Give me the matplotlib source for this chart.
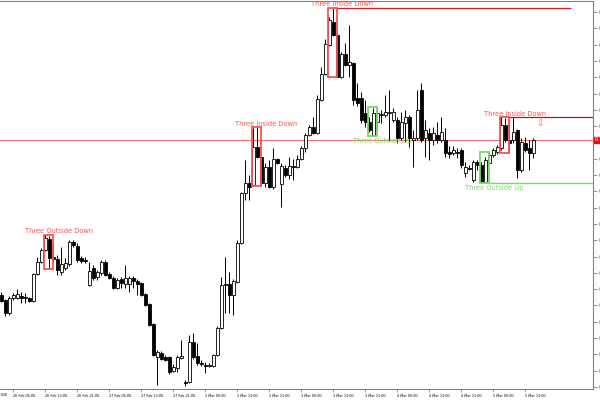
import matplotlib
matplotlib.use("Agg")
import matplotlib.pyplot as plt
from matplotlib.patches import Rectangle
import numpy as np

# hourly candles, 26 Feb 02:00 .. 5 Mar 15:00
opens = [
    0.7105, 0.7100, 0.7087, 0.7102, 0.7102, 0.7104, 0.7103, 0.7102, 0.7099, 0.7126,
    0.7138, 0.7150, 0.7161, 0.7143, 0.7141, 0.7128, 0.7132, 0.7136, 0.7158, 0.7154,
    0.7142, 0.7140, 0.7115, 0.7132, 0.7123, 0.7127, 0.7138, 0.7126, 0.7122, 0.7112,
    0.7121, 0.7116, 0.7116, 0.7122, 0.7119, 0.7117, 0.7106, 0.7096, 0.7076, 0.7043,
    0.7047, 0.7043, 0.7043, 0.7029, 0.7032, 0.7042, 0.7018, 0.7018, 0.7058, 0.7044,
    0.7037, 0.7035, 0.7034, 0.7034, 0.7045, 0.7072, 0.7115, 0.7116, 0.7105, 0.7118,
    0.7157, 0.7207, 0.7217, 0.7215, 0.7253, 0.7243, 0.7217, 0.7233, 0.7213, 0.7241,
    0.7216, 0.7232, 0.7225, 0.7234, 0.7233, 0.7241, 0.7252, 0.7265, 0.7273, 0.7267,
    0.7300, 0.7326, 0.7355, 0.7378, 0.7365, 0.7323, 0.7346, 0.7335, 0.7337, 0.7302,
    0.7302, 0.7287, 0.7278, 0.7265, 0.7278, 0.7285, 0.7285, 0.7287, 0.7280, 0.7280,
    0.7262, 0.7277, 0.7283, 0.7260, 0.7262, 0.7310, 0.7262, 0.7267, 0.7260, 0.7265,
    0.7260, 0.7260, 0.7248, 0.7247, 0.7248, 0.7250, 0.7227, 0.7232, 0.7220, 0.7238,
    0.7235, 0.7218, 0.7237, 0.7245, 0.7248, 0.7252, 0.7275, 0.7260, 0.7260, 0.7270,
    0.7230, 0.7257, 0.7252, 0.7247,
]
highs = [
    0.7108, 0.7101, 0.7104, 0.7107, 0.7111, 0.7108, 0.7107, 0.7103, 0.7127, 0.7143,
    0.7152, 0.7165, 0.7164, 0.7155, 0.7145, 0.7153, 0.7142, 0.7160, 0.7160, 0.7157,
    0.7144, 0.7143, 0.7138, 0.7135, 0.7130, 0.7140, 0.7140, 0.7128, 0.7124, 0.7122,
    0.7123, 0.7135, 0.7124, 0.7124, 0.7121, 0.7118, 0.7107, 0.7097, 0.7077, 0.7050,
    0.7049, 0.7045, 0.7044, 0.7036, 0.7045, 0.7060, 0.7020, 0.7065, 0.7067, 0.7057,
    0.7040, 0.7038, 0.7037, 0.7046, 0.7074, 0.7123, 0.7143, 0.7128, 0.7121, 0.7160,
    0.7208, 0.7240, 0.7225, 0.7272, 0.7273, 0.7244, 0.7237, 0.7240, 0.7252, 0.7242,
    0.7237, 0.7235, 0.7243, 0.7241, 0.7245, 0.7254, 0.7267, 0.7275, 0.7283, 0.7305,
    0.7333, 0.7361, 0.7383, 0.7392, 0.7367, 0.7348, 0.7357, 0.7375, 0.7338, 0.7317,
    0.7308, 0.7300, 0.7283, 0.7292, 0.7293, 0.7290, 0.7305, 0.7310, 0.7292, 0.7283,
    0.7288, 0.7290, 0.7285, 0.7270, 0.7310, 0.7317, 0.7280, 0.7272, 0.7273, 0.7278,
    0.7283, 0.7272, 0.7254, 0.7254, 0.7252, 0.7252, 0.7238, 0.7235, 0.7240, 0.7240,
    0.7238, 0.7243, 0.7248, 0.7252, 0.7255, 0.7283, 0.7282, 0.7280, 0.7283, 0.7271,
    0.7262, 0.7263, 0.7260, 0.7262,
]
lows = [
    0.7098, 0.7084, 0.7085, 0.7100, 0.7101, 0.7097, 0.7097, 0.7098, 0.7098, 0.7125,
    0.7137, 0.7149, 0.7131, 0.7138, 0.7125, 0.7125, 0.7130, 0.7134, 0.7153, 0.7138,
    0.7137, 0.7137, 0.7114, 0.7120, 0.7120, 0.7125, 0.7124, 0.7121, 0.7111, 0.7111,
    0.7112, 0.7112, 0.7108, 0.7112, 0.7105, 0.7104, 0.7094, 0.7074, 0.7044, 0.7015,
    0.7040, 0.7039, 0.7026, 0.7028, 0.7028, 0.7041, 0.7014, 0.7017, 0.7041, 0.7035,
    0.7034, 0.7027, 0.7033, 0.7033, 0.7044, 0.7071, 0.7087, 0.7087, 0.7085, 0.7117,
    0.7156, 0.7200, 0.7200, 0.7214, 0.7242, 0.7215, 0.7213, 0.7212, 0.7211, 0.7236,
    0.7193, 0.7223, 0.7221, 0.7220, 0.7232, 0.7240, 0.7248, 0.7264, 0.7266, 0.7266,
    0.7299, 0.7325, 0.7354, 0.7364, 0.7323, 0.7322, 0.7334, 0.7323, 0.7295, 0.7294,
    0.7277, 0.7273, 0.7268, 0.7264, 0.7270, 0.7277, 0.7283, 0.7260, 0.7278, 0.7257,
    0.7260, 0.7258, 0.7253, 0.7233, 0.7260, 0.7258, 0.7243, 0.7240, 0.7255, 0.7257,
    0.7258, 0.7243, 0.7242, 0.7245, 0.7242, 0.7232, 0.7223, 0.7230, 0.7218, 0.7230,
    0.7217, 0.7217, 0.7235, 0.7243, 0.7246, 0.7250, 0.7258, 0.7247, 0.7257, 0.7222,
    0.7228, 0.7248, 0.7230, 0.7242,
]
closes = [
    0.7099, 0.7087, 0.7102, 0.7105, 0.7106, 0.7102, 0.7102, 0.7099, 0.7126, 0.7138,
    0.7150, 0.7162, 0.7142, 0.7141, 0.7130, 0.7136, 0.7137, 0.7158, 0.7155, 0.7140,
    0.7139, 0.7139, 0.7129, 0.7122, 0.7128, 0.7138, 0.7125, 0.7122, 0.7112, 0.7120,
    0.7117, 0.7122, 0.7122, 0.7119, 0.7116, 0.7105, 0.7095, 0.7075, 0.7045, 0.7048,
    0.7041, 0.7040, 0.7028, 0.7033, 0.7043, 0.7044, 0.7017, 0.7058, 0.7043, 0.7037,
    0.7036, 0.7034, 0.7035, 0.7045, 0.7072, 0.7115, 0.7116, 0.7105, 0.7119, 0.7157,
    0.7207, 0.7217, 0.7213, 0.7253, 0.7243, 0.7217, 0.7233, 0.7213, 0.7241, 0.7237,
    0.7234, 0.7225, 0.7234, 0.7233, 0.7241, 0.7252, 0.7265, 0.7273, 0.7267, 0.7301,
    0.7326, 0.7356, 0.7380, 0.7365, 0.7323, 0.7346, 0.7335, 0.7338, 0.7300, 0.7297,
    0.7280, 0.7278, 0.7270, 0.7287, 0.7287, 0.7286, 0.7288, 0.7288, 0.7288, 0.7262,
    0.7278, 0.7283, 0.7262, 0.7262, 0.7290, 0.7260, 0.7270, 0.7260, 0.7267, 0.7260,
    0.7268, 0.7247, 0.7246, 0.7250, 0.7247, 0.7235, 0.7233, 0.7231, 0.7238, 0.7235,
    0.7218, 0.7240, 0.7245, 0.7250, 0.7253, 0.7275, 0.7260, 0.7257, 0.7268, 0.7230,
    0.7258, 0.7250, 0.7247, 0.7260,
]

# (first candle of the 3-bar pattern, name, bullish?)
patterns = [
    (11, "Three Outside Down", False),
    (63, "Three Inside Down", False),
    (82, "Three Inside Down", False),
    (92, "Three Outside Up", True),
    (120, "Three Outside Up", True),
    (125, "Three Inside Down", False),
]

# x tick labels every 8 bars, starting at bar 3
tick_bars = [3, 11, 19, 27, 35, 43, 51, 59, 67, 75, 83, 91, 99, 107, 115, 123, 131]
tick_labels = [
    "26 Feb 05:00", "26 Feb 13:00", "26 Feb 21:00", "27 Feb 05:00", "27 Feb 13:00",
    "27 Feb 21:00", "2 Mar 05:00", "2 Mar 13:00", "2 Mar 21:00", "3 Mar 05:00",
    "3 Mar 13:00", "3 Mar 21:00", "4 Mar 05:00", "4 Mar 13:00", "4 Mar 21:00",
    "5 Mar 05:00", "5 Mar 13:00",
]

RED = "#ff5050"
GREEN = "#78d86a"

o = np.array(opens)
h = np.array(highs)
l = np.array(lows)
c = np.array(closes)
x = np.arange(len(o))

fig = plt.figure(figsize=(6, 4), dpi=100)
ax = fig.add_axes([0, 11 / 400, 593 / 600, 388 / 400])
ax.set_xlim(-0.325, 147.9)
ax.set_ylim(0.7011, 0.7399)

# current price line
ax.axhline(c[-1], color="#ff6c6c", lw=0.8, zorder=1)

# candles: white = bull, black = bear
ax.vlines(x, l, h, color="black", lw=0.7, zorder=2)
up = c >= o
body_lo = np.minimum(o, c)
body_h = np.maximum(np.abs(c - o), 0.00004)
ax.bar(x[up], body_h[up], bottom=body_lo[up], width=0.7,
       color="white", edgecolor="black", linewidth=0.6, zorder=3)
ax.bar(x[~up], body_h[~up], bottom=body_lo[~up], width=0.7,
       color="black", edgecolor="black", linewidth=0.6, zorder=3)

# pattern boxes + labels
for k, name, bull in patterns:
    hi = h[k:k + 3].max()
    lo = l[k:k + 3].min()
    col = GREEN if bull else RED
    ax.add_patch(Rectangle((k - 0.3, lo), 2.3, hi - lo, fill=False,
                           edgecolor=col, lw=1.3, zorder=4))
    if bull:
        ax.text(k + 3.3, lo - 0.0005, name, color=col, fontsize=4.8,
                ha="center", va="center", zorder=5)
    else:
        ax.text(k + 3.3, hi + 0.00035, name, color=col, fontsize=4.8,
                ha="center", va="center", zorder=5)

# level lines from the latest patterns
ax.hlines(h[82:85].max(), 84, 142.4, color="#e81818", lw=0.9, zorder=4)
ax.hlines(h[125:128].max(), 127, 148, color="#c01010", lw=0.9, zorder=4)
ax.hlines(l[120:123].min(), 122, 148, color=GREEN, lw=1.0, zorder=4)

# sell arrow
ax.text(134.7, 0.7276, "\u21e9", color=RED, fontsize=6.5, ha="center",
        va="center", zorder=5)

# axes styling
for side in ("top", "right", "bottom"):
    ax.spines[side].set_color("#808080")
    ax.spines[side].set_linewidth(0.8)
ax.spines["left"].set_visible(False)

ax.yaxis.tick_right()
yt = np.arange(0.7013, 0.7399, 0.00163)
ax.set_yticks(yt)
ax.set_yticklabels([f"{v:.4f}" for v in yt])
ax.tick_params(axis="y", length=3, width=0.6, color="#808080",
               labelsize=3.6, pad=1, labelcolor="#404040")

ax.set_xticks(tick_bars)
ax.set_xticklabels(tick_labels, ha="left")
ax.tick_params(axis="x", length=2, width=0.5, color="#808080",
               labelsize=2.4, pad=1.5)
ax.text(1.4, -0.01, "26 Feb 2026", transform=ax.get_xaxis_transform(),
        fontsize=2.4, ha="right", va="top")

# bid price tag on the scale
ax.text(1.003, c[-1], f"{c[-1]:.4f}", transform=ax.get_yaxis_transform(),
        fontsize=3.6, color="white", ha="left", va="center",
        bbox=dict(boxstyle="square,pad=0.15", fc="#e01010", ec="#e01010"))

fig.savefig("out.png", dpi=100)
